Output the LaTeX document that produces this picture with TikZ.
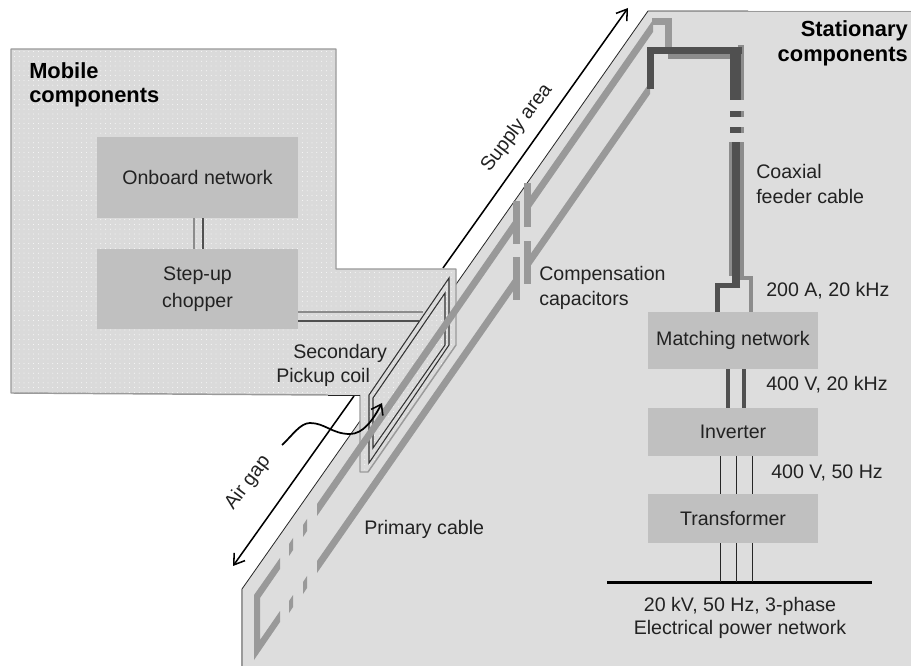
\documentclass[tikz,border=0pt]{standalone}
\usepackage{fontspec}
\setmainfont{Liberation Sans}
\usetikzlibrary{arrows.meta,patterns.meta}
\definecolor{statbg}{HTML}{DDDDDD}
\definecolor{mobbg}{HTML}{DADADA}
\definecolor{boxbg}{HTML}{C0C0C0}
\definecolor{bandc}{HTML}{999999}
\definecolor{darkc}{HTML}{505050}
\definecolor{midc}{HTML}{8C8C8C}
\definecolor{edgec}{HTML}{9A9A9A}
\definecolor{txt}{HTML}{222222}
\newcommand{\bandseg}[4]{\fill[bandc] (#1,#2-6) -- (#3,#4-6) -- (#3,#4+6) -- (#1,#2+6) -- cycle;}
\newcommand{\barrect}[5]{\fill[#5] (#1,#2) rectangle (#3,#4);}
\tikzset{
  blockbox/.style={fill=boxbg,draw=none,inner sep=0pt,text=txt,font=\fontsize{14.7pt}{19.5pt}\selectfont,align=center},
  lab/.style={inner sep=0pt,text=txt,font=\fontsize{14.7pt}{19.5pt}\selectfont,align=left},
  headlab/.style={inner sep=0pt,text=black,font=\fontsize{16.4pt}{20pt}\selectfont\bfseries},
  thinwire/.style={line width=0.7pt,draw=black!85},
  graywire/.style={line width=1pt,draw=midc},
  darkwire/.style={line width=1pt,draw=darkc},
  coil/.style={line width=0.8pt,draw=black!80,line join=miter},
  bigarrow/.style={line width=1.15pt,draw=black,-{Straight Barb[length=7.5pt,width=10pt,line width=1.15pt]}},
}
\begin{document}
\begin{tikzpicture}[x=0.75pt,y=-0.75pt]
\useasboundingbox (0,0) rectangle (911,666);
% stationary plane
\fill[statbg] (648,11) -- (911,11) -- (911,666) -- (242,666) -- (242,589) -- cycle;
\draw[line width=0.6pt,black!85] (242,589) -- (648,11) -- (748,11);
\draw[line width=0.6pt,edgec] (748,11) -- (911,11);
\draw[line width=1.2pt,edgec] (242,589) -- (242,666);
% arrows behind the mobile plane
\coordinate (supA) at (443,268);
\coordinate (supB) at (628,8);
\coordinate (gapA) at (354,396);
\coordinate (gapB) at (233,566);
\draw[bigarrow] (supA) -- (supB);
\draw[bigarrow] (gapA) -- (gapB);
% mobile plane
\path[fill=mobbg] (11,49) -- (336,49) -- (336,269) -- (456,269) -- (456,345) -- (368,472) -- (360,472) -- (360,395) -- (11,393) -- cycle;
\path[pattern={Dots[radius=0.35pt,distance=3.6pt]},pattern color=white] (11,49) -- (336,49) -- (336,269) -- (456,269) -- (456,345) -- (368,472) -- (360,472) -- (360,395) -- (11,393) -- cycle;
\draw[line width=1.1pt,edgec,line join=round] (360,395) -- (360,472) -- (368,472) -- (456,345) -- (456,269) -- (336,269) -- (336,49) -- (11,49) -- (11,393) -- (328,395);
\draw[line width=0.7pt,black!85] (328,395) -- (360,395);
% blocks
\node[blockbox,minimum width=150.75pt,minimum height=60.75pt] (onboard) at (197.5,177.5) {Onboard network};
\node[blockbox,minimum width=150.75pt,minimum height=60pt] (chopper) at (197.5,289) {\raisebox{-1.5pt}{Step-up}\\[0.3pt]\raisebox{-1.5pt}{chopper}};
\node[blockbox,minimum width=127.5pt,minimum height=42.75pt] (match) at (733,340.5) {\raisebox{-2pt}{Matching network}};
\node[blockbox,minimum width=127.5pt,minimum height=36pt] (inv) at (733,432) {Inverter};
\node[blockbox,minimum width=127.5pt,minimum height=36.75pt] (trafo) at (733,518.5) {Transformer};
% bus
\coordinate (busL) at (607,582.5);
\coordinate (busR) at (872,582.5);
\draw[line width=2.7pt,black] (busL) -- (busR);
% mobile wires
\coordinate (coilA) at (423,312);
\coordinate (coilB) at (419,321);
\draw[graywire] ([xshift=-2.6pt]onboard.south) -- ([xshift=-2.6pt]chopper.north);
\draw[darkwire] ([xshift=4.1pt]onboard.south) -- ([xshift=4.1pt]chopper.north);
\draw[graywire] (chopper.east |- coilA) -- (coilA);
\draw[darkwire] (chopper.east |- coilB) -- (coilB);
% coil
\draw[coil] (449,278) -- (369,395) -- (369,463) -- (449,345) -- cycle;
\draw[coil] (445,293) -- (373,398) -- (373,448) -- (445,345) -- cycle;
% primary cable, upper run
\fill[bandc] (652,18) -- (671,18) -- (671,25) -- (652,25) -- cycle;
\fill[bandc] (665,18) rectangle (672,47);
\bandseg{653}{26}{527}{207}
\bandseg{516}{223}{317}{510}
\bandseg{307}{525}{303}{531}
\bandseg{293}{544}{289}{550}
% primary cable, lower run
\bandseg{650}{88}{527}{265}
\bandseg{516}{281}{317}{567}
\bandseg{307}{582}{303}{588}
\bandseg{293}{601}{289}{607}
% primary cable, end loop
\fill[bandc] (254,595) -- (280,558) -- (280,569) -- (260,598) -- (260,640) -- (280,611) -- (280,622) -- (254,660) -- cycle;
% capacitors
\barrect{512.5}{201}{520}{244}{bandc}
\barrect{512.5}{257}{520}{300}{bandc}
\barrect{523.5}{183}{531}{227}{bandc}
\barrect{523.5}{241}{531}{284}{bandc}
% coaxial feeder: light conductor
\barrect{668}{53}{744}{59}{midc}
\barrect{738}{45}{744}{100}{midc}
\barrect{738}{111}{744}{117}{midc}
\barrect{738}{127}{744}{133}{midc}
\barrect{729}{142}{744}{276}{midc}
% coaxial feeder: dark conductor
\barrect{647}{47}{742}{54}{darkc}
\barrect{647}{47}{654}{89}{darkc}
\barrect{730}{47}{741}{100}{darkc}
\barrect{730}{111}{741}{117}{darkc}
\barrect{730}{127}{741}{133}{darkc}
\barrect{732}{142}{740}{288}{darkc}
% feeder ends at matching network
\coordinate (hotA) at (751,278);
\coordinate (hotB) at (717.5,285.5);
\draw[line width=3pt,midc] (740,278) -- (hotA) -- (hotA |- match.north);
\draw[line width=3.6pt,darkc] (740,285.5) -- (hotB) -- (hotB |- match.north);
% DC link
\draw[line width=3pt,darkc] ([xshift=-3.4pt]match.south) -- ([xshift=-3.4pt]inv.north);
\draw[line width=3pt,darkc] ([xshift=8.6pt]match.south) -- ([xshift=8.6pt]inv.north);
% three-phase wires
\foreach \dx in {-9.4,2.6,14.6}{
  \draw[thinwire] ([xshift=\dx pt]inv.south) -- ([xshift=\dx pt]trafo.north);
  \path ([xshift=\dx pt]trafo.south) coordinate (tap);
  \draw[thinwire] (tap) -- (tap |- busL);
}
% air-gap wave
\coordinate (wavA) at (282,445);
\coordinate (wavB) at (382,403);
\draw[line width=1.3pt,black,-{Straight Barb[length=7pt,width=10pt,line width=1.2pt]}] (wavA) .. controls (292,436) and (300,423) .. (310,423) .. controls (325,423) and (332,434) .. (350,434) .. controls (363,434) and (373,420) .. (wavB);
% labels
\node[headlab,anchor=west] (lm1) at (29,71) {Mobile};
\node[headlab,anchor=west] (lm2) at (29,98) {components};
\node[headlab,anchor=east] (ls1) at (908,31) {Stationary};
\node[headlab,anchor=east] (ls2) at (908,57) {components};
\node[lab,anchor=west] (l1) at (293,353) {Secondary};
\node[lab,anchor=west] (l2) at (276,377) {Pickup coil};
\node[lab,rotate=53] (l3) at (517,128) {Supply area};
\node[lab,rotate=53] (l4) at (248,483) {Air gap};
\node[lab,anchor=west] (l5) at (539,275) {Compensation};
\node[lab,anchor=west] (l6) at (539,300) {capacitors};
\node[lab,anchor=west] (l7) at (756,171) {Coaxial};
\node[lab,anchor=west] (l8) at (756,196) {feeder cable};
\node[lab,anchor=west] (l9) at (766,291) {200 A, 20 kHz};
\node[lab,anchor=west] (l10) at (766,385) {400 V, 20 kHz};
\node[lab,anchor=west] (l11) at (771,473) {400 V, 50 Hz};
\node[lab,anchor=west] (l12) at (364,529) {Primary cable};
\node[lab,align=center] (l13) at (740,606) {20 kV, 50 Hz, 3-phase};
\node[lab,align=center] (l14) at (740,629) {Electrical power network};
\end{tikzpicture}
\end{document}
